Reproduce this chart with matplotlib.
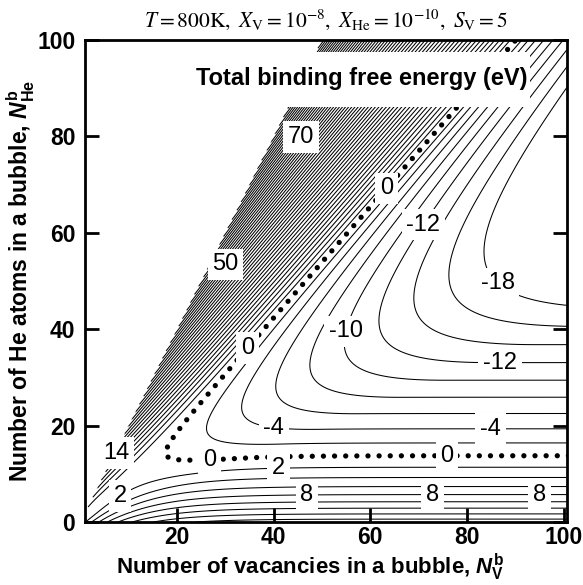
import numpy as np
import matplotlib.pyplot as plt
from matplotlib.patches import Rectangle

plt.rcParams['font.family'] = ['Liberation Sans', 'DejaVu Sans']
plt.rcParams['mathtext.fontset'] = 'custom'
plt.rcParams['mathtext.rm'] = 'Liberation Sans:bold'
plt.rcParams['mathtext.it'] = 'Liberation Sans:italic:bold'
plt.rcParams['mathtext.bf'] = 'Liberation Sans:bold'

# energetics of a He-vacancy bubble (eV)
vac_plateau = 17.2      # pure vacancy cluster term at large size
vac_scale = 9.0         # size where the vacancy term saturates
he_trap = 12.3          # gain from the first He atoms trapped
he_trap_len = 8.0
he_gain = 0.517         # linear gain per vacancy vs He/V ratio
press_quad = 0.92       # gas pressure penalty
press_onset = 0.39
press_hard = 0.95       # extra stiffness once He/V passes ~1.1
hard_onset = 1.08
hard_width = 0.04
max_ratio = 2.0         # He/V ratio beyond which nothing is computed

# contour levels
level_min, level_max, level_step = -18, 120, 2

# labelled contour values and where they sit
label_values = [2, 2, 8, 8, 8, 14, 50, 70, -4, -4, -10, -12, -12, -18, 0, 0, 0, 0]
label_nv = [8.8, 41.0, 47.0, 72.8, 95.0, 8.5, 30.5, 44.8, 40.7, 84.8, 61.4,
            72.0, 86.9, 87.5, 26.8, 75.9, 36.0, 63.7]
label_nhe = [4.6, 11.2, 4.6, 5.0, 4.1, 13.5, 53.0, 80.7, 24.7, 19.7, 38.0,
             61.0, 34.0, 50.8, 13.5, 14.9, 35.0, 68.9]


def binding_energy(nv, nhe):
    r = nhe / nv
    vac = vac_plateau * (1 - np.exp(-nv / vac_scale))
    trap = -he_trap * (1 - np.exp(-nhe / he_trap_len))
    hinge = hard_width * np.logaddexp(0, (r - hard_onset) / hard_width)
    press = nv * (-he_gain * r
                  + press_quad * np.clip(r - press_onset, 0, None) ** 2
                  + press_hard * hinge)
    g = vac + trap + press
    return np.where(r <= max_ratio, g, np.nan)


nv = np.linspace(1, 101, 800)
nhe = np.linspace(0, 101, 800)
NV, NHE = np.meshgrid(nv, nhe)
G = binding_energy(NV, NHE)

levels = np.arange(level_min, level_max + 1, level_step)
solid_levels = levels[levels != 0]

fig = plt.figure(figsize=(5.83, 5.85), dpi=100)
ax = fig.add_axes([85 / 583, 1 - 522 / 585, 482 / 583, 482 / 585])

cs = ax.contour(NV, NHE, G, levels=solid_levels, colors='k',
                linewidths=0.75, linestyles='solid')
cs0 = ax.contour(NV, NHE, G, levels=[0], colors='k', linewidths=3.8,
                 linestyles=[(0, (0.01, 2.1))])
cs0.set_capstyle('round')


def label_contour(cset, level, x, y):
    # put the value on the nearest point of that level's line
    i = list(cset.levels).index(level)
    pts = cset.get_paths()[i].vertices
    d = (pts[:, 0] - x) ** 2 + (pts[:, 1] - y) ** 2
    px, py = pts[np.argmin(d)]
    ax.text(px, py, '%d' % level, ha='center', va='center', fontsize=17,
            zorder=6, bbox=dict(boxstyle='square,pad=0.2', fc='white', ec='none'))


for v, x, y in zip(label_values, label_nv, label_nhe):
    label_contour(cs0 if v == 0 else cs, v, x, y)

# heading inside the plot, on a white panel
ax.add_patch(Rectangle((15, 86.2), 93.1 - 15, 97.5 - 86.2, fc='white',
                       ec='none', zorder=4))
ax.text(92.6, 92.0, 'Total binding free energy (eV)', ha='right',
        va='center', fontsize=17, fontweight='bold', zorder=5)

ax.set_xlim(1, 100.7)
ax.set_ylim(0, 100)
ax.set_xticks([20, 40, 60, 80, 100])
ax.set_yticks([0, 20, 40, 60, 80, 100])
ax.tick_params(direction='in', length=10, width=2, labelsize=16.5,
               right=True, top=False)
ax.tick_params(axis='x', pad=3)
ax.tick_params(axis='y', pad=7)
for lab in ax.get_xticklabels() + ax.get_yticklabels():
    lab.set_fontweight('bold')
for sp in ax.spines.values():
    sp.set_linewidth(2)

ax.set_xlabel('Number of vacancies in a bubble, $N_{\\mathrm{V}}^{\\mathrm{b}}$',
              fontsize=16, fontweight='bold')
ax.set_ylabel('Number of He atoms in a bubble, $N_{\\mathrm{He}}^{\\mathrm{b}}$',
              fontsize=16.5, fontweight='bold')
ax.xaxis.set_label_coords(0.467, -0.062)
ax.yaxis.set_label_coords(-0.1, 0.5)

fig.text(0.559, 0.966,
         r'$T = 800\mathrm{K},\ X_{\mathrm{V}} = 10^{-8},\ X_{\mathrm{He}} = 10^{-10},\ S_{\mathrm{V}} = 5$',
         ha='center', va='center', fontsize=15.5, math_fontfamily='stix')

fig.savefig('out.png', dpi=100)
